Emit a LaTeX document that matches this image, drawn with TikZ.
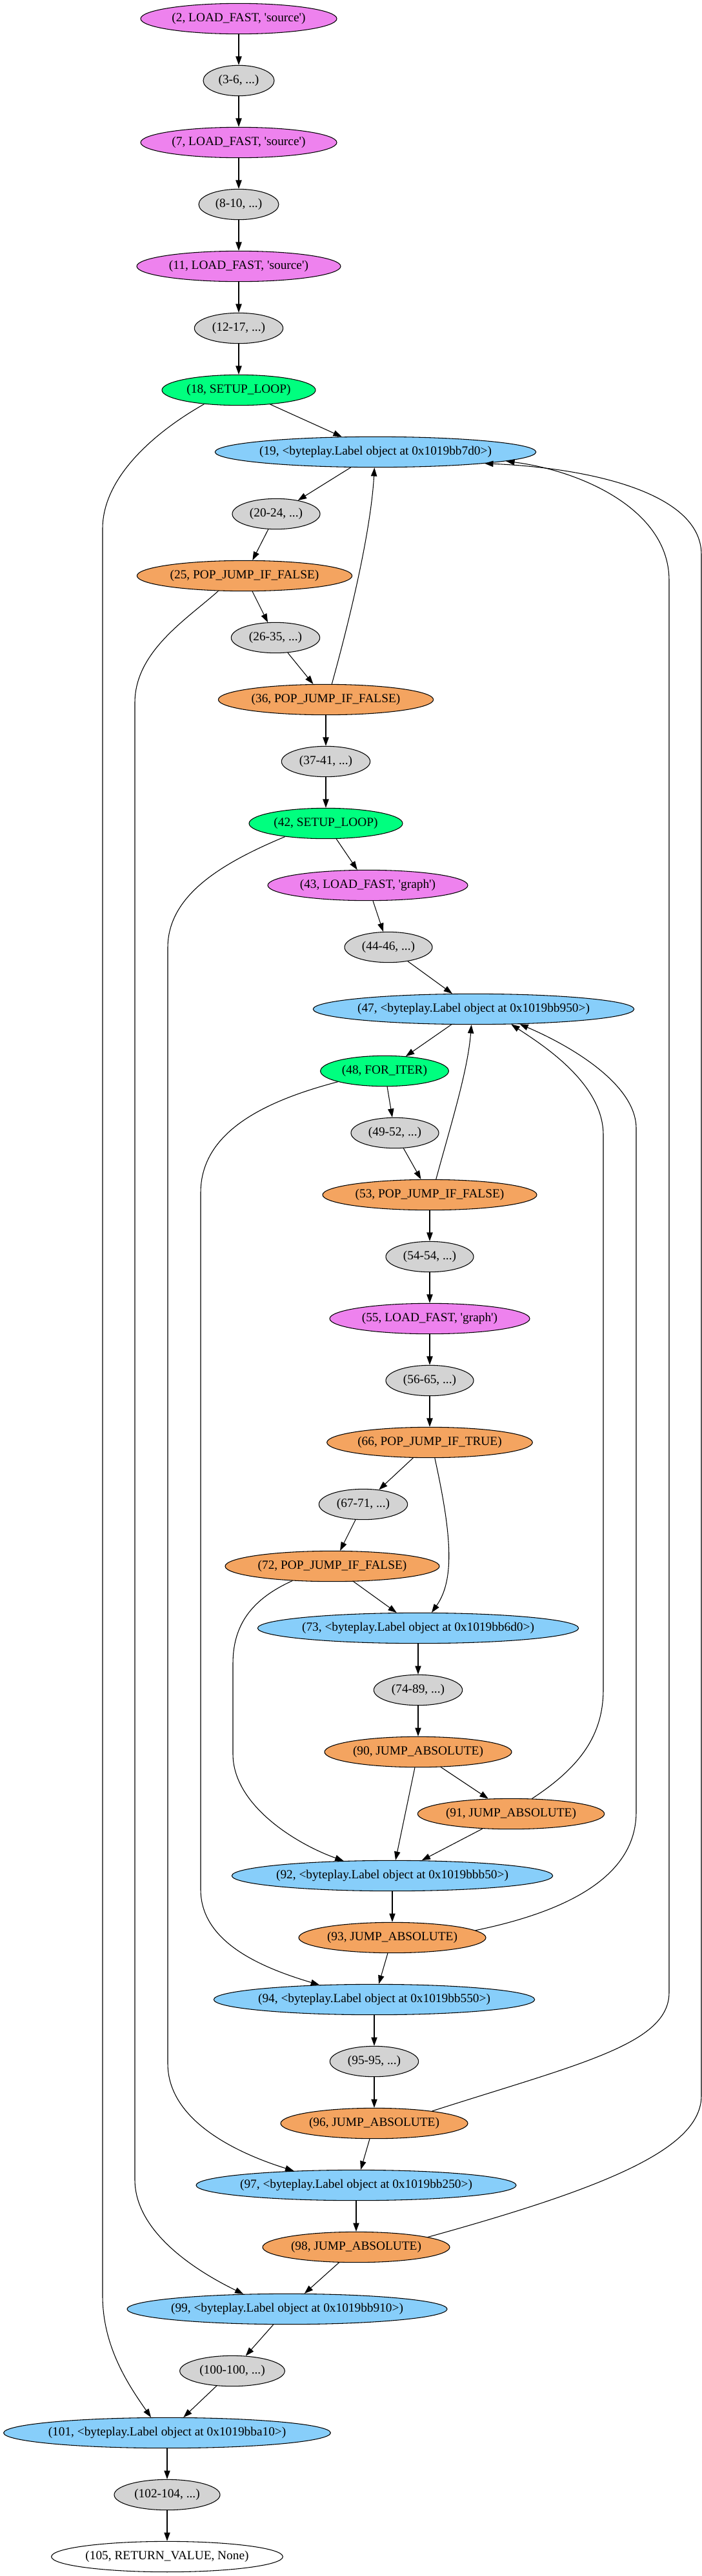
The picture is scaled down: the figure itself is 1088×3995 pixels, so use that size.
\documentclass[tikz,border=0pt]{standalone}
\usepackage{fontspec}
\setmainfont{Liberation Serif}
\usetikzlibrary{shapes.geometric,arrows.meta}

\definecolor{gvviolet}{HTML}{EE82EE}
\definecolor{gvgray}{HTML}{D3D3D3}
\definecolor{gvgreen}{HTML}{00FF7F}
\definecolor{gvblue}{HTML}{87CEFA}
\definecolor{gvorange}{HTML}{F4A460}
\newcommand{\sq}{\textquotesingle}

\tikzset{
  instr/.style={ellipse, draw, line width=0.8pt, minimum height=35.5pt, inner xsep=-12pt, inner ysep=0pt, font=\fontsize{14.5}{17}\selectfont},
  loadop/.style={instr, fill=gvviolet},
  block/.style={instr, fill=gvgray},
  setup/.style={instr, fill=gvgreen},
  target/.style={instr, fill=gvblue},
  jump/.style={instr, fill=gvorange},
  ret/.style={instr, fill=white},
  flow/.style={-{Triangle[length=10pt,width=7pt]}, line width=0.8pt}
}

\begin{document}
\begin{tikzpicture}[x=0.75pt, y=-0.75pt]
    \useasboundingbox (0,0) rectangle (1088,3995);

	% Instructions
    \node[loadop, minimum width=228pt] (i2) at (370,29) {(2, LOAD\_FAST, \sq source\sq)};
    \node[block, minimum width=82.5pt] (i3) at (370,125) {(3-6, ...)};
    \node[loadop, minimum width=228pt] (i7) at (370,221) {(7, LOAD\_FAST, \sq source\sq)};
    \node[block, minimum width=93pt] (i8) at (370,317) {(8-10, ...)};
    \node[loadop, minimum width=237pt] (i11) at (370,413) {(11, LOAD\_FAST, \sq source\sq)};
    \node[block, minimum width=103pt] (i12) at (370,509) {(12-17, ...)};
    \node[setup, minimum width=178.5pt] (i18) at (370,605) {(18, SETUP\_LOOP)};
    \node[target, minimum width=373pt] (i19) at (582,701) {(19, <byteplay.Label object at 0x1019bb7d0>)};
    \node[block, minimum width=102pt] (i20) at (428,797) {(20-24, ...)};
    \node[jump, minimum width=250pt] (i25) at (379,893) {(25, POP\_JUMP\_IF\_FALSE)};
    \node[block, minimum width=103pt] (i26) at (427,989) {(26-35, ...)};
    \node[jump, minimum width=250pt] (i36) at (505,1085) {(36, POP\_JUMP\_IF\_FALSE)};
    \node[block, minimum width=103pt] (i37) at (505,1181) {(37-41, ...)};
    \node[setup, minimum width=178.5pt] (i42) at (505,1277) {(42, SETUP\_LOOP)};
    \node[loadop, minimum width=232.5pt] (i43) at (570,1373) {(43, LOAD\_FAST, \sq graph\sq)};
    \node[block, minimum width=102pt] (i44) at (602,1469) {(44-46, ...)};
    \node[target, minimum width=373pt] (i47) at (734,1565) {(47, <byteplay.Label object at 0x1019bb950>)};
    \node[setup, minimum width=149pt] (i48) at (596,1661) {(48, FOR\_ITER)};
    \node[block, minimum width=102pt] (i49) at (612,1757) {(49-52, ...)};
    \node[jump, minimum width=249pt] (i53) at (666,1853) {(53, POP\_JUMP\_IF\_FALSE)};
    \node[block, minimum width=102pt] (i54) at (666,1949) {(54-54, ...)};
    \node[loadop, minimum width=232.5pt] (i55) at (666,2045) {(55, LOAD\_FAST, \sq graph\sq)};
    \node[block, minimum width=102pt] (i56) at (666,2141) {(56-65, ...)};
    \node[jump, minimum width=239pt] (i66) at (666,2237) {(66, POP\_JUMP\_IF\_TRUE)};
    \node[block, minimum width=103pt] (i67) at (563,2333) {(67-71, ...)};
    \node[jump, minimum width=249pt] (i72) at (515,2429) {(72, POP\_JUMP\_IF\_FALSE)};
    \node[target, minimum width=373pt] (i73) at (648,2525) {(73, <byteplay.Label object at 0x1019bb6d0>)};
    \node[block, minimum width=103pt] (i74) at (648,2621) {(74-89, ...)};
    \node[jump, minimum width=217.5pt] (i90) at (648,2717) {(90, JUMP\_ABSOLUTE)};
    \node[jump, minimum width=217pt] (i91) at (792,2813) {(91, JUMP\_ABSOLUTE)};
    \node[target, minimum width=373pt] (i92) at (608,2909) {(92, <byteplay.Label object at 0x1019bbb50>)};
    \node[jump, minimum width=217.5pt] (i93) at (608,3005) {(93, JUMP\_ABSOLUTE)};
    \node[target, minimum width=373pt] (i94) at (580,3101) {(94, <byteplay.Label object at 0x1019bb550>)};
    \node[block, minimum width=103pt] (i95) at (580,3197) {(95-95, ...)};
    \node[jump, minimum width=217.5pt] (i96) at (580,3293) {(96, JUMP\_ABSOLUTE)};
    \node[target, minimum width=372pt] (i97) at (552,3389) {(97, <byteplay.Label object at 0x1019bb250>)};
    \node[jump, minimum width=217.5pt] (i98) at (552,3485) {(98, JUMP\_ABSOLUTE)};
    \node[target, minimum width=372pt] (i99) at (445,3581) {(99, <byteplay.Label object at 0x1019bb910>)};
    \node[block, minimum width=122pt] (i100) at (360,3677) {(100-100, ...)};
    \node[target, minimum width=380pt] (i101) at (259,3773) {(101, <byteplay.Label object at 0x1019bba10>)};
    \node[block, minimum width=123pt] (i102) at (259,3869) {(102-104, ...)};
    \node[ret, minimum width=269pt] (i105) at (259,3965) {(105, RETURN\_VALUE, None)};

	% Straight flow
    \draw[flow] (i2) -- (i3);
    \draw[flow] (i3) -- (i7);
    \draw[flow] (i7) -- (i8);
    \draw[flow] (i8) -- (i11);
    \draw[flow] (i11) -- (i12);
    \draw[flow] (i12) -- (i18);
    \draw[flow] (i18) -- (i19);
    \draw[flow] (i19) -- (i20);
    \draw[flow] (i20) -- (i25);
    \draw[flow] (i25) -- (i26);
    \draw[flow] (i26) -- (i36);
    \draw[flow] (i36) -- (i37);
    \draw[flow] (i37) -- (i42);
    \draw[flow] (i42) -- (i43);
    \draw[flow] (i43) -- (i44);
    \draw[flow] (i44) -- (i47);
    \draw[flow] (i47) -- (i48);
    \draw[flow] (i48) -- (i49);
    \draw[flow] (i49) -- (i53);
    \draw[flow] (i53) -- (i54);
    \draw[flow] (i54) -- (i55);
    \draw[flow] (i55) -- (i56);
    \draw[flow] (i56) -- (i66);
    \draw[flow] (i66) -- (i67);
    \draw[flow] (i67) -- (i72);
    \draw[flow] (i72) -- (i73);
    \draw[flow] (i73) -- (i74);
    \draw[flow] (i74) -- (i90);
    \draw[flow] (i90) -- (i91);
    \draw[flow] (i90) -- (i92);
    \draw[flow] (i91) -- (i92);
    \draw[flow] (i92) -- (i93);
    \draw[flow] (i93) -- (i94);
    \draw[flow] (i94) -- (i95);
    \draw[flow] (i95) -- (i96);
    \draw[flow] (i96) -- (i97);
    \draw[flow] (i97) -- (i98);
    \draw[flow] (i98) -- (i99);
    \draw[flow] (i99) -- (i100);
    \draw[flow] (i100) -- (i101);
    \draw[flow] (i101) -- (i102);
    \draw[flow] (i102) -- (i105);

	% Short jumps
    \draw[flow] (i36.69) .. controls (545,950) and (575,820) .. (i19.266);
    \draw[flow] (i53.68) .. controls (700,1740) and (725,1660) .. (i47.262);
    \draw[flow] (i66.288) .. controls (700,2380) and (705,2450) .. (i73.49);

	% Long jumps, left side
    \draw[flow] (i18.202) .. controls (240,670) and (159,740) .. (159,820) -- (159,3560) .. controls (159,3640) and (200,3700) .. (i101.136);
    \draw[flow] (i25.210) .. controls (290,960) and (209,1010) .. (209,1090) -- (209,3380) .. controls (209,3460) and (300,3520) .. (i99.161);
    \draw[flow] (i42.198) .. controls (340,1340) and (260,1390) .. (260,1470) -- (260,3200) .. controls (260,3290) and (370,3340) .. (i97.167);
    \draw[flow] (i48.193) .. controls (400,1710) and (311,1760) .. (311,1850) -- (311,2930) .. controls (311,3010) and (400,3050) .. (i94.165);
    \draw[flow] (i72.200) .. controls (390,2480) and (361,2520) .. (361,2580) -- (361,2720) .. controls (361,2800) and (460,2860) .. (i92.163);

	% Long jumps, right side (back to loop heads)
    \draw[flow] (i91.36) .. controls (900,2740) and (935,2690) .. (935,2620) -- (935,1760) .. controls (935,1680) and (840,1620) .. (i47.338);
    \draw[flow] (i93.5) .. controls (900,2960) and (986,2900) .. (986,2810) -- (986,1750) .. controls (986,1680) and (880,1620) .. (i47.342);
    \draw[flow] (i96.12) .. controls (900,3200) and (1037,3170) .. (1037,3090) -- (1037,900) .. controls (1037,790) and (900,730) .. (i19.356);
    \draw[flow] (i98.8) .. controls (950,3390) and (1087,3330) .. (1087,3250) -- (1087,860) .. controls (1087,760) and (900,725) .. (i19.354);

\end{tikzpicture}
\end{document}
